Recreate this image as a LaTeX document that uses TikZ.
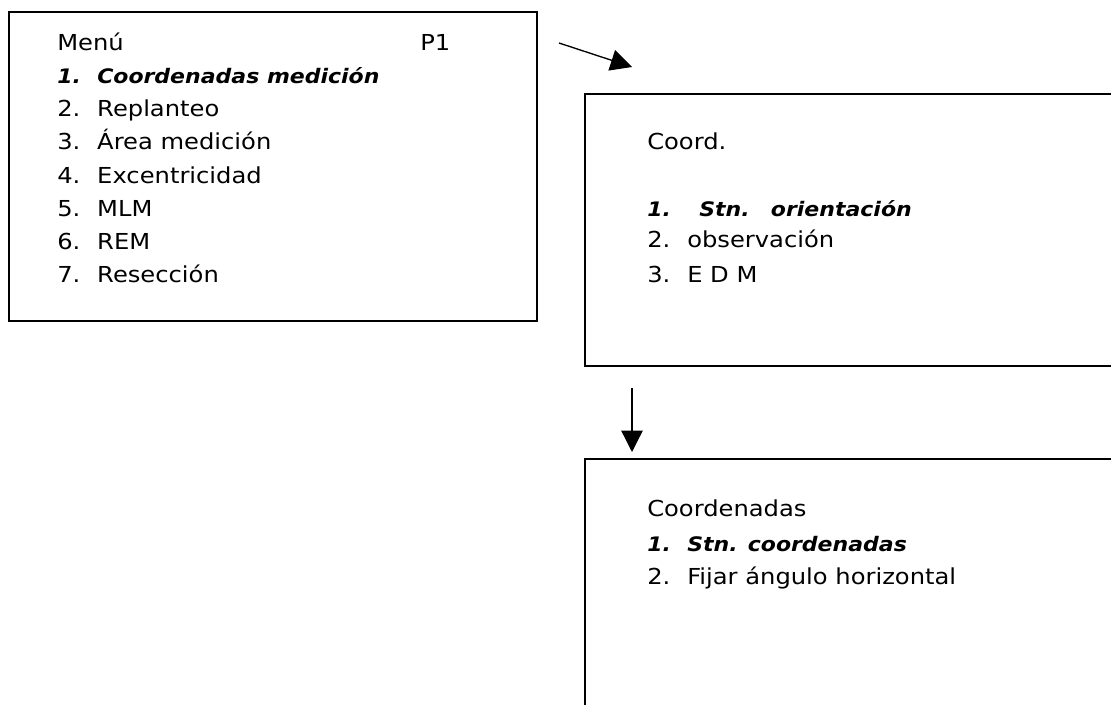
\documentclass[tikz,border=0pt]{standalone}
\usepackage{fontspec}
\setmainfont{DejaVu Sans}[FakeStretch=1.1]
\usetikzlibrary{arrows.meta}

\newcommand{\num}[1]{\makebox[30pt][l]{#1}}

\tikzset{
	menubox/.style={draw, rectangle, line width=1.4pt, inner sep=0pt, anchor=north west},
	entry/.style={anchor=base west, inner sep=0pt, font=\fontsize{16.5}{20}\selectfont},
	chosen/.style={entry, font=\fontsize{15}{20}\selectfont\bfseries\itshape},
	flow/.style={-{Triangle[length=16pt,width=16pt]}, line width=1pt}
}

\begin{document}
\begin{tikzpicture}[x=0.75pt,y=-0.75pt]
		
		\clip (0,0) rectangle (1111,705);
		
		% Main menu
		\node [menubox,
		minimum width=396pt,
		minimum height=231.75pt] (menu) at (8,11){};
		
		\node[entry] (title) at (57,51) {Menú};
		\node[entry] (page) at (420,51) {P1};
		\node[chosen] (m1) at (57,84) {\num{1.}Coordenadas medición};
		\node[entry] (m2) at (57,117) {\num{2.}Replanteo};
		\node[entry] (m3) at (57,150) {\num{3.}Área medición};
		\node[entry] (m4) at (57,184) {\num{4.}Excentricidad};
		\node[entry] (m5) at (57,217) {\num{5.}MLM};
		\node[entry] (m6) at (57,250) {\num{6.}REM};
		\node[entry] (m7) at (57,283) {\num{7.}Resección};
		
		% Coord. screen
		\node [menubox,
		minimum width=417pt,
		minimum height=204pt] (coord) at (584,93){};
		
		\node[entry] (ctitle) at (647,150) {Coord.};
		\node[chosen] (c1) at (647,217) {\num{1.}\hspace{9pt}Stn.\hspace{16pt}orientación};
		\node[entry] (c2) at (647,248) {\num{2.}observación};
		\node[entry] (c3) at (647,283) {\num{3.}E D M};
		
		% Coordenadas screen
		\node [menubox,
		minimum width=417pt,
		minimum height=211.5pt] (stn) at (584,458){};
		
		\node[entry] (stitle) at (647,517) {Coordenadas};
		\node[chosen] (s1) at (647,552) {\num{1.}Stn. coordenadas};
		\node[entry] (s2) at (647,585) {\num{2.}Fijar ángulo horizontal};
		
		% arrows
		\coordinate (go1) at (559,43);
		\coordinate (to1) at (632,67);
		\draw[flow] (go1) -- (to1);
		
		\coordinate (go2) at (632,388);
		\coordinate (to2) at (632,452);
		\draw[flow] (go2) -- (to2);
		
	\end{tikzpicture}
\end{document}
